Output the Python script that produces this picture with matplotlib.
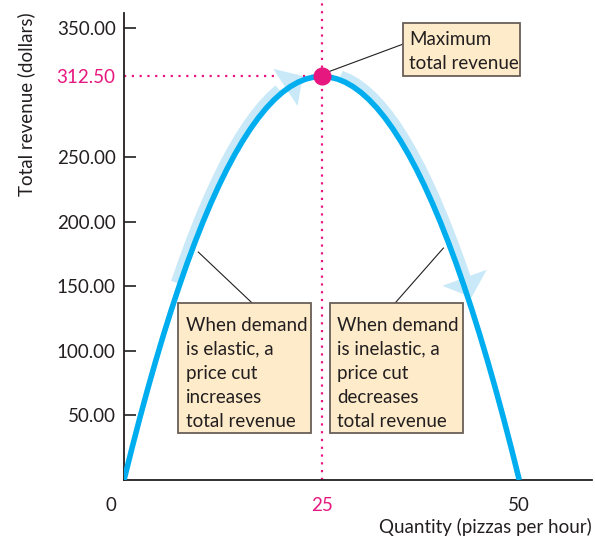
import matplotlib
matplotlib.use("Agg")
import matplotlib.pyplot as plt
import matplotlib.transforms as mtransforms
from matplotlib.patches import Rectangle

plt.rcParams['font.family'] = ['Lato', 'DejaVu Sans']

# Total revenue schedule (pizzas per hour, dollars)
quantity = list(range(0, 51))
total_revenue = [0, 24.5, 48, 70.5, 92, 112.5, 132, 150.5, 168, 184.5,
                 200, 214.5, 228, 240.5, 252, 262.5, 272, 280.5, 288, 294.5,
                 300, 304.5, 308, 310.5, 312, 312.5, 312, 310.5, 308, 304.5,
                 300, 294.5, 288, 280.5, 272, 262.5, 252, 240.5, 228, 214.5,
                 200, 184.5, 168, 150.5, 132, 112.5, 92, 70.5, 48, 24.5, 0]
max_q = 25
max_tr = 312.5

ytick_vals = [50, 100, 150, 200, 250, 312.5, 350]
ytick_labels = ['50.00', '100.00', '150.00', '200.00', '250.00', '312.50', '350.00']
xtick_vals = [0, 25, 50]
xtick_labels = ['0', '25', '50']

BLUE = '#00aeef'
BAND = '#c9e9f8'
MAGENTA = '#e6177f'
BOX_FILL = '#fdebc9'
BOX_EDGE = '#6a5f58'
TEXT = '#231f20'
FS = 13.5

fig = plt.figure(figsize=(5.95, 5.4), dpi=100)
ax = fig.add_axes([124 / 595, 60 / 540, 468 / 595, 480 / 540])
ax.set_xlim(0, 59.2)
ax.set_ylim(0, 371.7)

for s in ['top', 'right']:
    ax.spines[s].set_visible(False)
for s in ['left', 'bottom']:
    ax.spines[s].set_linewidth(1.3)
    ax.spines[s].set_color(TEXT)
ax.spines['left'].set_bounds(0, 361.5)

# light arrows alongside the curve
left_tr = mtransforms.offset_copy(ax.transData, fig=fig, x=-3, y=3, units='dots')
right_tr = mtransforms.offset_copy(ax.transData, fig=fig, x=3, y=3, units='dots')
ax.plot(quantity[7:21], total_revenue[7:21], color=BAND, lw=8, transform=left_tr,
        solid_capstyle='butt', zorder=2)
ax.annotate('', xy=(quantity[23], total_revenue[23]), xycoords=left_tr,
            xytext=(quantity[19], total_revenue[19]), textcoords=left_tr,
            arrowprops=dict(arrowstyle='-|>,head_length=0.75,head_width=0.8', mutation_scale=20,
                            fc=BAND, ec='none', lw=0, shrinkA=0, shrinkB=0), zorder=2)
ax.plot(quantity[27:44], total_revenue[27:44], color=BAND, lw=8, transform=right_tr,
        solid_capstyle='butt', zorder=2)
ax.annotate('', xy=(quantity[44], total_revenue[44]), xycoords=right_tr,
            xytext=(quantity[40], total_revenue[40]), textcoords=right_tr,
            arrowprops=dict(arrowstyle='-|>,head_length=0.75,head_width=0.85', mutation_scale=20,
                            fc=BAND, ec='none', lw=0, shrinkA=0, shrinkB=7), zorder=2)

# total revenue curve
ax.plot(quantity, total_revenue, color=BLUE, lw=4, zorder=3, solid_capstyle='butt')

# dotted guides and maximum point
ax.plot([max_q, max_q], [0, 371.7], ls=(0, (1, 2.5)), color=MAGENTA, lw=1.6, zorder=1)
ax.plot([0, max_q], [max_tr, max_tr], ls=(0, (1, 2.5)), color=MAGENTA, lw=1.6, zorder=1)
ax.plot([max_q], [max_tr], 'o', color=MAGENTA, ms=12, zorder=5)

# ticks
ax.set_yticks(ytick_vals)
ax.set_yticklabels(ytick_labels)
ax.tick_params(axis='y', direction='in', length=8.5, width=1.2, pad=6, labelsize=FS,
               color=TEXT, labelcolor=TEXT)
ax.set_xticks(xtick_vals)
ax.set_xticklabels(xtick_labels)
ax.tick_params(axis='x', length=0, pad=12, labelsize=FS, labelcolor=TEXT)
ax.yaxis.get_major_ticks()[5].tick1line.set_visible(False)
ax.get_yticklabels()[5].set_color(MAGENTA)
ax.get_xticklabels()[1].set_color(MAGENTA)
ax.get_xticklabels()[0].set_transform(ax.get_xticklabels()[0].get_transform() +
                                      mtransforms.Affine2D().translate(-13, 0))

ax.set_ylabel('Total revenue (dollars)', loc='top', fontsize=FS, color=TEXT)
ax.yaxis.set_label_coords(-0.19, 0.975)
ax.set_xlabel('Quantity (pizzas per hour)', loc='right', fontsize=FS, color=TEXT, labelpad=3)

# callout boxes
boxes = [
    ((6.84, 36.4), 16.83, 100.7, 7.8, -4.0, 'When demand\nis elastic, a\nprice cut\nincreases\ntotal revenue'),
    ((26.08, 36.4), 16.83, 100.7, 27.0, -4.0, 'When demand\nis inelastic, a\nprice cut\ndecreases\ntotal revenue'),
    ((35.32, 312.8), 14.81, 41.1, 36.1, -1.5, 'Maximum\ntotal revenue'),
]
for (x0, y0), w, h, tx, dy, label in boxes:
    ax.add_patch(Rectangle((x0, y0), w, h, facecolor=BOX_FILL, edgecolor=BOX_EDGE, lw=1.3, zorder=6))
    ax.text(tx, y0 + h / 2 + dy, label, ha='left', va='center', fontsize=FS, color=TEXT,
            linespacing=1.5, zorder=7)

# leader lines
ax.plot([16.2, 9.4], [137.1, 176.5], color=TEXT, lw=0.8, zorder=4)
ax.plot([34.3, 40.4], [137.1, 179.6], color=TEXT, lw=0.8, zorder=4)
ax.plot([35.32, 25.6], [337.6, 315.5], color=TEXT, lw=0.8, zorder=4)

fig.savefig('out.png', dpi=100)
